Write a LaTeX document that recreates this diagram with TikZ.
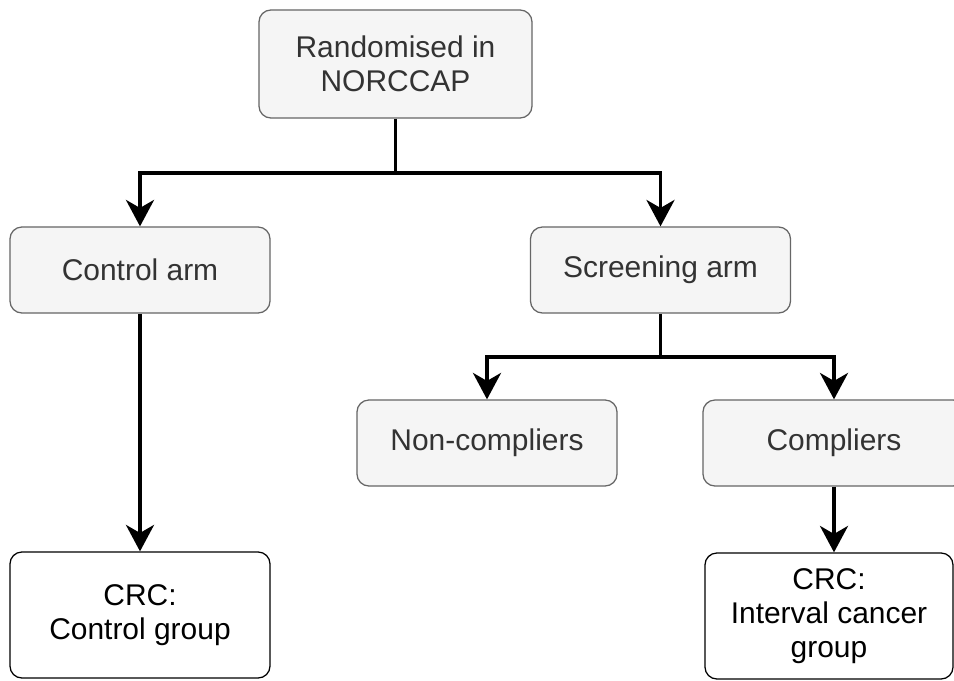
\documentclass[tikz,border=0pt]{standalone}
\usepackage{fontspec}
\setmainfont{Liberation Sans}
\usepackage{tikz}
\usetikzlibrary{arrows.meta,positioning,calc}
\definecolor{boxfill}{HTML}{F5F5F5}
\definecolor{boxline}{HTML}{666666}
\definecolor{boxtext}{HTML}{333333}

\begin{document}
\begin{tikzpicture}[x=0.025cm,y=-0.025cm,
  every node/.style={font=\fontsize{21.3}{24.2}\selectfont,align=center,inner sep=0pt},
  grp/.style={draw=boxline,fill=boxfill,text=boxtext,line width=0.9pt,rounded corners=0.3cm,
    minimum width=6.5cm,minimum height=2.15cm},
  res/.style={draw=black,fill=white,text=black,line width=0.9pt,rounded corners=0.3cm,
    minimum width=6.5cm,minimum height=3.15cm},
  link/.style={line width=2.6pt},
  arr/.style={link,-{Stealth[length=0.66cm,width=0.7cm,inset=0.2cm]}}]
 \useasboundingbox (0,0) rectangle (954,680);
 % boxes
 \node[grp,minimum width=6.825cm,minimum height=2.7cm] (rand) at (395.5,64) {Randomised in\\NORCCAP};
 \node[grp] (ctrl) at (140,270) {Control arm};
 \node[grp] (scr) at (660.5,270) {Screening arm};
 \node[grp] (non) at (487,443) {Non-compliers};
 \node[grp,minimum width=6.55cm] (comp) at (834,443) {Compliers};
 \node[res] (crcc) at (140,615) {CRC:\\Control group};
 \node[res,minimum width=6.2cm] (crci) at (829,616) {CRC:\\Interval cancer\\group};
 % connectors
 \coordinate (split1) at (395.5,173);
 \coordinate (split2) at (660.5,357);
 \draw[link] (rand) -- (split1);
 \draw[arr] (split1) -| (ctrl);
 \draw[arr] (split1) -| (scr);
 \draw[link] (scr) -- (split2);
 \draw[arr] (split2) -| (non);
 \draw[arr] (split2) -| (comp);
 \draw[arr] (ctrl) -- (crcc);
 \draw[arr] (comp.south) -- (comp.south |- crci.north);
\end{tikzpicture}
\end{document}
